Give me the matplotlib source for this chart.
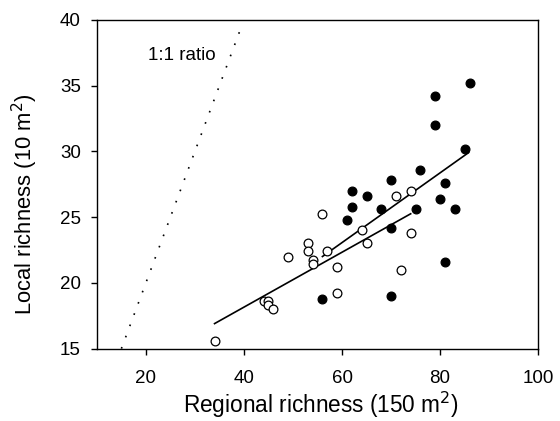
import matplotlib
matplotlib.use('Agg')
import matplotlib.pyplot as plt

plt.rcParams['font.family'] = ['Liberation Sans', 'DejaVu Sans']

# --- data ------------------------------------------------------------------
# filled circles
filled_x = [86, 79, 79, 85, 76, 70, 81, 62, 65, 80, 62, 68, 75, 83, 61, 70, 56, 70, 81]
filled_y = [35.2, 34.2, 32.0, 30.2, 28.6, 27.8, 27.6, 27.0, 26.6, 26.4, 25.8, 25.6,
            25.6, 25.6, 24.8, 24.2, 18.8, 19.0, 21.6]

# open circles
open_x = [56, 71, 74, 64, 65, 57, 53, 53, 49, 54, 54, 59, 72, 59, 44, 45, 45, 46, 34, 74]
open_y = [25.2, 26.6, 27.0, 24.0, 23.0, 22.4, 23.0, 22.4, 22.0, 21.7, 21.4, 21.2,
          21.0, 19.2, 18.6, 18.6, 18.3, 18.0, 15.6, 23.8]

# fitted lines (end points)
fit1_x = [34.0, 74.0]
fit1_y = [16.9, 25.25]
fit2_x = [56.0, 85.8]
fit2_y = [22.0, 29.9]

# 1:1 reference
ratio_x = [15, 39.4]
ratio_y = [15, 39.4]

# --- plot --------------------------------------------------------------------
fig = plt.figure(figsize=(5.6, 4.21), dpi=100)
ax = fig.add_axes([0.173, 0.172, 0.788, 0.781])

ax.plot(ratio_x, ratio_y, color='black', lw=1.2, ls=(0, (1, 6.2)))
ax.text(20.5, 37.3, '1:1 ratio', fontsize=13.5, ha='left', va='center')

ax.plot(fit1_x, fit1_y, color='black', lw=1.2)
ax.plot(fit2_x, fit2_y, color='black', lw=1.2)

ax.plot(open_x, open_y, 'o', ms=6.3, mfc='white', mec='black', mew=0.9)
ax.plot(filled_x, filled_y, 'o', ms=6.3, mfc='black', mec='black', mew=0.9)

ax.set_xlim(10, 100)
ax.set_ylim(15, 40)
ax.set_xticks([20, 40, 60, 80, 100])
ax.set_yticks([15, 20, 25, 30, 35, 40])
ax.tick_params(direction='out', length=4.5, width=1, labelsize=13.5,
               top=False, right=False)
ax.tick_params(axis='x', pad=11)
ax.tick_params(axis='y', pad=7)
for s in ax.spines.values():
    s.set_linewidth(1)

ax.set_xlabel('Regional richness (150 m$^2$)', fontsize=16.3)
ax.set_ylabel('Local richness (10 m$^2$)', fontsize=15.8)
ax.xaxis.set_label_coords(0.508, -0.124)
ax.yaxis.set_label_coords(-0.128, 0.44)

fig.savefig('out.png', dpi=100)
